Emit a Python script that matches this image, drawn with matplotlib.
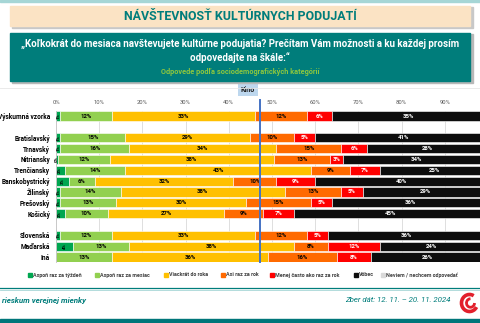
import numpy as np
import matplotlib.pyplot as plt
from matplotlib.patches import Rectangle, Arc

plt.rcParams['font.family'] = ['Roboto', 'DejaVu Sans']

# ---- data ----
rows = ['Výskumná vzorka', '', 'Bratislavský', 'Trnavský', 'Nitriansky', 'Trenčiansky',
        'Banskobystrický', 'Žilinský', 'Prešovský', 'Košický', '',
        'Slovenská', 'Maďarská', 'Iná']
answers = ['Aspoň raz za týždeň', 'Aspoň raz za mesiac', 'Viackrát do roka',
           'Asi raz za rok', 'Menej často ako raz za rok', 'Vôbec',
           'Neviem / nechcem odpovedať']
tyzden = [1, 0, 1, 1, 0.4, 2, 3, 1, 1, 2, 0, 1, 4, 0]
mesiac = [12, 0, 15, 16, 12, 14, 6, 14, 13, 10, 0, 12, 13, 13]
roka = [33, 0, 29, 34, 38, 43, 32, 38, 30, 27, 0, 33, 38, 36]
raz_rok = [12, 0, 10, 15, 13, 9, 10, 13, 15, 9, 0, 12, 8, 16]
menej = [6, 0, 5, 6, 3, 7, 9, 5, 5, 7, 0, 5, 12, 8]
vobec = [35, 0, 41, 28, 34, 25, 40, 29, 36, 45, 0, 36, 24, 26]
neviem = [1, 0, 0, 0, 0, 0, 0, 0, 0, 0, 0, 1, 1, 1]
ticks = [0, 10, 20, 30, 40, 50, 60, 70, 80, 90]
kino_mark = 47.2

series = [tyzden, mesiac, roka, raz_rok, menej, vobec, neviem]
colors = ['#00a650', '#92d050', '#ffc000', '#ff6a00', '#ff0000', '#0d0d0d', '#d9d9d9']
txtcol = ['black', 'black', 'black', 'black', 'white', 'white', 'black']

W, H = 480, 323
fig = plt.figure(figsize=(W / 100, H / 100), dpi=100)
fx = lambda px: px / W
fy = lambda py: 1 - py / H

# ---- header ----
teal = '#007d7b'
fig.patches.append(Rectangle((fx(0), fy(2)), 1, 2 / H, transform=fig.transFigure,
                             color='#a6d6d6', zorder=0))
fig.patches.append(Rectangle((fx(12), fy(28)), fx(461), 21 / H, transform=fig.transFigure,
                             color='#c8c8c8', zorder=0))
fig.patches.append(Rectangle((fx(10), fy(26)), fx(460), 20 / H, transform=fig.transFigure,
                             color='#fbe3c4', zorder=1))
fig.text(fx(240), fy(16.5), 'NÁVŠTEVNOSŤ KULTÚRNYCH PODUJATÍ', ha='center', va='center',
         color=teal, fontsize=8.9, fontweight='bold')
fig.patches.append(Rectangle((fx(12), fy(83)), fx(461), 49 / H, transform=fig.transFigure,
                             color='#b8b8b8', zorder=0))
fig.patches.append(Rectangle((fx(10), fy(81)), fx(460), 48 / H, transform=fig.transFigure,
                             color=teal, zorder=1))
fig.text(fx(240), fy(43.5), '„Koľkokrát do mesiaca navštevujete kultúrne podujatia? Prečítam Vám možnosti a ku každej prosím',
         ha='center', va='center', color='white', fontsize=7.0, fontweight='bold')
fig.text(fx(240), fy(57.5), 'odpovedajte na škále:“', ha='center', va='center',
         color='white', fontsize=7.0, fontweight='bold')
fig.text(fx(240), fy(72.5), 'Odpovede podľa sociodemografických kategórií', ha='center', va='center',
         color='#8cc63f', fontsize=5.3, fontweight='bold')
fig.lines.append(plt.Line2D([0, 1], [fy(87.5), fy(87.5)], transform=fig.transFigure,
                            color='#e6e6e6', lw=0.6))

# ---- chart ----
x0, px10 = 56, 43.2
top, step = 116, 10.85
ax = fig.add_axes([fx(x0), fy(top + step * 13.5), px10 * 10 / W, step * 14 / H])
y = np.arange(len(rows))
left = np.zeros(len(rows))
for k, vals in enumerate(series):
    vals = np.array(vals, dtype=float)
    ax.barh(y, vals, left=left, height=0.84, color=colors[k], edgecolor='white',
            linewidth=0.4, zorder=2)
    for i, v in enumerate(vals):
        if rows[i] == '' or v <= 0 or k == 6:
            continue
        cx = left[i] + v / 2
        if k == 0:
            ax.text(cx, i, '%d%%' % round(v), rotation=90, ha='center', va='center',
                    fontsize=3.2, fontweight='bold', color='black', zorder=3)
        else:
            ax.text(cx, i, '%d%%' % round(v), ha='center', va='center',
                    fontsize=4.3, fontweight='bold', color=txtcol[k], zorder=3)
    left += vals

ax.set_xlim(0, 100)
ax.set_ylim(13.5, -0.5)
ax.set_yticks([i for i in y if rows[i]])
ax.set_yticklabels([r for r in rows if r], fontsize=4.7, fontweight='bold')
ax.tick_params(axis='y', length=0, pad=4.3)
ax.xaxis.tick_top()
ax.set_xticks(ticks)
ax.set_xticklabels(['%d%%' % t for t in ticks], fontsize=4.2, color='#595959')
ax.tick_params(axis='x', length=0, pad=4)
ax.grid(axis='x', color='#d9d9d9', lw=0.6, zorder=0)
for s in ['top', 'right', 'bottom']:
    ax.spines[s].set_visible(False)
ax.spines['left'].set_color('#bfbfbf')
ax.spines['left'].set_linewidth(0.6)

ax.plot([kino_mark, kino_mark], [-1.47, 13.45], color='#4472c4', lw=1.4, zorder=4,
        clip_on=False)
ax.text(kino_mark - 2.8, -2.44, 'Kino', ha='center', va='center', fontsize=5.0,
        fontweight='bold', color='#1f1f1f', zorder=6,
        bbox=dict(boxstyle='square,pad=0.4', fc='#bdd7ee', ec='none'))

# ---- legend ----
leg_x = [28, 95, 164, 221, 270, 354, 381]
for k, name in enumerate(answers):
    fig.patches.append(Rectangle((fx(leg_x[k]), fy(276.5)), 3.5 / W, 3.5 / H,
                                 transform=fig.transFigure, color=colors[k]))
    fig.text(fx(leg_x[k] + 5), fy(275), name, ha='left', va='center', fontsize=3.9,
             fontweight='bold', color='#404040')

# ---- footer ----
fig.lines.append(plt.Line2D([0, 1], [fy(288.3), fy(288.3)], transform=fig.transFigure,
                            color=teal, lw=0.9))
fig.lines.append(plt.Line2D([0, 1], [fy(289.6), fy(289.6)], transform=fig.transFigure,
                            color='#a6d6d6', lw=0.6))
fig.text(fx(2), fy(300), 'rieskum verejnej mienky', ha='left', va='center', color=teal,
         fontsize=5.7, fontweight='bold', style='italic')
fig.text(fx(450), fy(300), 'Zber dát: 12. 11. – 20. 11. 2024', ha='right', va='center',
         color=teal, fontsize=5.7, style='italic')
fig.patches.append(Rectangle((0, 0), 1, 4.5 / H, transform=fig.transFigure, color='#00767a'))

lax = fig.add_axes([fx(459), fy(314), 20 / W, 22 / H])
lax.set_xlim(-1, 1)
lax.set_ylim(-1.1, 1.1)
lax.axis('off')
lax.add_patch(Arc((0.05, 0), 1.6, 1.7, theta1=60, theta2=330, color='#e2202c', lw=2.6))
lax.add_patch(Arc((0.15, 0), 0.8, 0.85, theta1=90, theta2=360, color='#e2202c', lw=2.0))

fig.savefig('out.png', dpi=100)
